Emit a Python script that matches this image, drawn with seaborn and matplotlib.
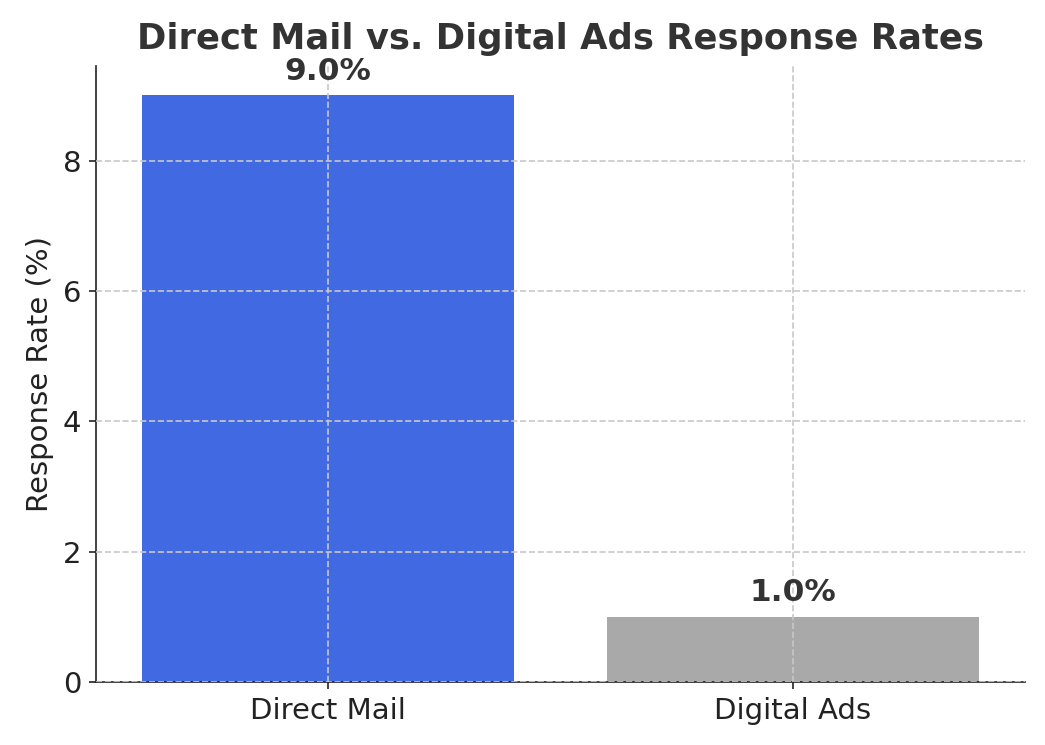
import matplotlib
matplotlib.use("Agg")
import matplotlib.pyplot as plt
import seaborn as sns
import pandas as pd

categories = ["Direct Mail", "Digital Ads"]
rates = [9.0, 1.0]
colors = ["#4169E1", "#A9A9A9"]

df = pd.DataFrame({"Channel": categories, "Rate": rates})
fig = plt.figure(figsize=(1045/150, 745/150), dpi=150)
ax = fig.add_axes([96/1045, 1-682/745, (1025-96)/1045, (682-66)/745])
sns.barplot(data=df, x="Channel", y="Rate", hue="Channel", palette=colors, legend=False, ax=ax, width=0.8, saturation=1, zorder=2)
ax.set_ylim(0, 9.45)
ax.grid(True, linestyle="--", color="#c8c8c8", linewidth=0.8, zorder=3)
ax.set_axisbelow(False)
for s in ["top", "right"]:
    ax.spines[s].set_visible(False)
ax.spines["left"].set_color("#222222")
ax.spines["bottom"].set_color("#222222")
ax.tick_params(labelsize=14, colors="#222222")
ax.set_xlabel("")
ax.set_ylabel("Response Rate (%)", fontsize=14, color="#222222")
ax.set_title("Direct Mail vs. Digital Ads Response Rates", fontsize=17, fontweight="bold", color="#333333", pad=8)
for i, v in enumerate(rates):
    ax.text(i, v + 0.15, f"{v:.1f}%", ha="center", va="bottom", fontsize=15, fontweight="bold", color="#333333")
fig.savefig("out.png", dpi=150)
